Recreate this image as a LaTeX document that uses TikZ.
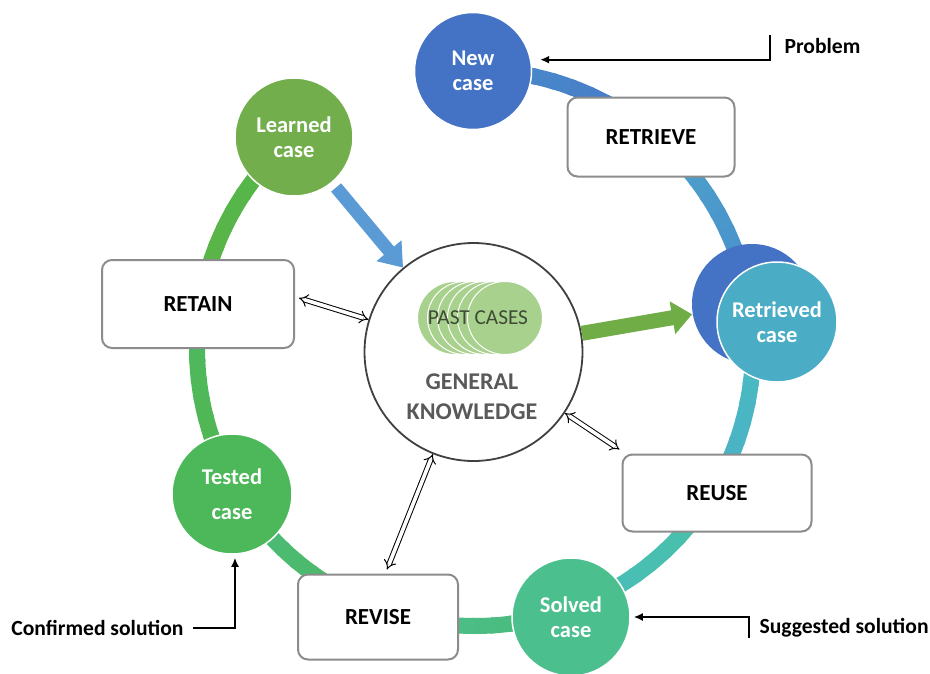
\documentclass[tikz,border=0pt]{standalone}
\usepackage{fontspec}
\setmainfont{Carlito}
\usetikzlibrary{arrows.meta,calc,shapes.geometric}
\definecolor{cNew}{HTML}{4472C4}
\definecolor{cRetr}{HTML}{4BACC6}
\definecolor{cSolved}{HTML}{4CBF8E}
\definecolor{cTested}{HTML}{4CB85A}
\definecolor{cLearned}{HTML}{72AE4B}
\definecolor{cBlueArrow}{HTML}{5B9BD5}
\definecolor{cGreenArrow}{HTML}{70AD47}
\definecolor{cPast}{HTML}{A9D18E}
\definecolor{cBoxLine}{HTML}{8C8C8C}
\definecolor{cGkLine}{HTML}{404040}
\definecolor{cGkText}{HTML}{595959}
\definecolor{cPastText}{HTML}{3E4A36}
\definecolor{rA}{HTML}{4677C6}
\definecolor{rB}{HTML}{4A8ECB}
\definecolor{rC}{HTML}{4BA3CB}
\definecolor{rD}{HTML}{4BB1C8}
\definecolor{rE}{HTML}{49BDBE}
\definecolor{rF}{HTML}{48C1A4}
\definecolor{rG}{HTML}{4CBE8C}
\definecolor{rH}{HTML}{4BBB7A}
\definecolor{rI}{HTML}{4DB862}
\definecolor{rJ}{HTML}{52B74C}
\definecolor{rK}{HTML}{5DB446}
\newcommand\ringseg[4]{%
  \foreach \i in {0,...,9}{%
    \pgfmathsetmacro\aa{#1+(#2-#1)*\i/10}%
    \pgfmathsetmacro\bb{#1+(#2-#1)*(\i+1.2)/10}%
    \pgfmathsetmacro\pp{95-\i*10}%
    \draw[ringline,color=#4!\pp!#3] plot[domain=\aa:\bb,samples=8] ({475+278*cos(\x)},{348+278*sin(\x)});
  }}
\begin{document}
\begin{tikzpicture}[x=1pt,y=-1pt,
  ringline/.style={line width=16pt,line cap=butt},
  circ/.style={circle,inner sep=0pt,draw=white,line width=1.5pt,text=white,align=center,
    font=\bfseries\fontsize{22.5}{25}\selectfont},
  box/.style={rectangle,rounded corners=10pt,draw=cBoxLine,line width=2pt,fill=white,
    font=\bfseries\fontsize{23}{27}\selectfont},
  dbl/.style={double=white,double distance=3.6pt,line width=1pt,{Implies[length=6pt]}-{Implies[length=6pt]}},
  fat/.style={line width=#1,line cap=butt},
  side/.style={font=\bfseries\fontsize{21.6}{25}\selectfont},
  thin/.style={line width=1.8pt,-{Latex[length=9pt,width=8pt]}}]
\fill[white] (0,0) rectangle (930,673);
\path[use as bounding box] (0,0) rectangle (930,673);

% ring
\ringseg{-90}{-50}{rA}{rB}
\ringseg{-50}{-9}{rB}{rC}
\ringseg{-9}{31}{rD}{rE}
\ringseg{31}{70}{rE}{rF}
\ringseg{70}{110}{rG}{rH}
\ringseg{110}{149}{rH}{rI}
\ringseg{149}{189}{rI}{rJ}
\ringseg{189}{229.4}{rJ}{rK}

% central knowledge
\node[circle,draw=cGkLine,line width=1.8pt,fill=white,minimum size=218pt,inner sep=0pt] (gk) at (473.5,352) {};
\foreach \i in {0,...,5}{
  \node[ellipse,fill=cPast,draw=white,line width=1pt,minimum width=75pt,minimum height=73pt,inner sep=0pt] (pc\i) at ({455+10*\i},318) {};
}
\node[text=cPastText,font=\fontsize{21.3}{24}\selectfont] (pastlbl) at (478,318) {PAST CASES};
\node[text=cGkText,align=center,font=\bfseries\fontsize{24}{30}\selectfont] (gklbl) at (472,397) {GENERAL\\KNOWLEDGE};

% circles
\node[circ,fill=cNew,minimum size=117pt] (newcase) at (473,71) {New\\case};
\node[circ,fill=cNew,draw=none,minimum size=120pt] (retback) at (752,304) {};
\node[circ,fill=cRetr,minimum size=120pt] (retrieved) at (777,322) {Retrieved\\case};
\node[circ,fill=cSolved,minimum size=118pt] (solved) at (571,617) {Solved\\case};
\node[circ,fill=cTested,minimum size=120pt,font=\bfseries\fontsize{22.5}{35}\selectfont] (tested) at (232,494) {Tested\\case};
\node[circ,fill=cLearned,minimum size=118pt] (learned) at (294,137) {Learned\\case};

% boxes
\node[box,minimum width=167pt,minimum height=79pt] (retrieve) at (651,137) {RETRIEVE};
\node[box,minimum width=192pt,minimum height=88pt] (retain) at (198,304) {RETAIN};
\node[box,minimum width=189pt,minimum height=77pt] (reuse) at (717,493) {REUSE};
\node[box,minimum width=160pt,minimum height=85pt] (revise) at (378,617) {REVISE};

% fat arrows
\draw[fat=13pt,cBlueArrow,-{Triangle[length=22pt,width=31pt]},shorten <=6pt] (learned) -- (gk);
\draw[fat=15pt,cGreenArrow,-{Triangle[length=20pt,width=32pt]}] (gk) -- (retback);

% double arrows
\draw[dbl] ([yshift=6pt,xshift=4pt]retain.east) -- (gk);
\draw[dbl] (gk) -- ([xshift=-2pt,yshift=4pt]reuse.north west);
\draw[dbl] (gk) -- ([xshift=9pt,yshift=4pt]revise.north);

% side inputs
\coordinate (pb) at (770,35);
\node[side,anchor=west] (problem) at (781,46) {Problem};
\draw[thin] (pb) |- ([xshift=9pt]newcase.11);
\coordinate (sg) at (749,638);
\node[side,anchor=west] (suggested) at (756,628) {Suggested solution};
\draw[thin] (sg) |- ([xshift=3pt]solved.east);
\coordinate (cf) at (193,628);
\node[side,anchor=east] (confirmed) at (187,628) {Confirmed solution};
\draw[thin] (cf) -| ([xshift=3pt,yshift=-3pt]tested.south);
\end{tikzpicture}
\end{document}
